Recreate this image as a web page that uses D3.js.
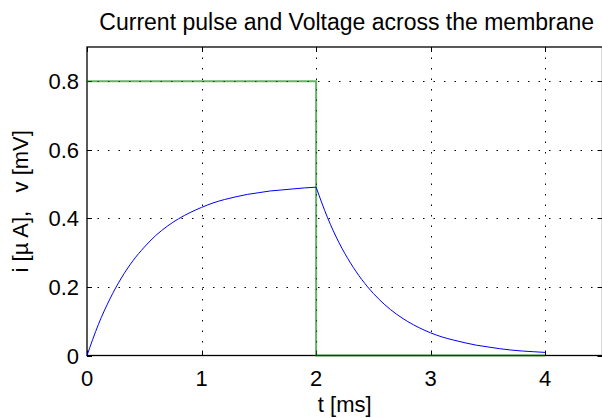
<!DOCTYPE html>
<html>
<head>
<meta charset="utf-8">
<script src="https://cdn.jsdelivr.net/npm/d3@7"></script>
<style>
  body { margin: 0; background: #fff; }
  text { font-family: "Liberation Sans", Arial, Helvetica, sans-serif; fill: #000; }
</style>
</head>
<body>
<svg width="602" height="418"></svg>
<script>
// voltage across the membrane, every 0.1 ms
const timeMs = [0.0, 0.1, 0.2, 0.3, 0.4, 0.5, 0.6, 0.7, 0.8, 0.9,
                1.0, 1.1, 1.2, 1.3, 1.4, 1.5, 1.6, 1.7, 1.8, 1.9,
                2.0, 2.1, 2.2, 2.3, 2.4, 2.5, 2.6, 2.7, 2.8, 2.9,
                3.0, 3.1, 3.2, 3.3, 3.4, 3.5, 3.6, 3.7, 3.8, 3.9, 4.0];
const voltage = [0.000, 0.091, 0.165, 0.226, 0.276, 0.316, 0.350, 0.377, 0.399, 0.417,
                 0.432, 0.445, 0.455, 0.463, 0.470, 0.475, 0.480, 0.483, 0.486, 0.489,
                 0.491, 0.402, 0.329, 0.270, 0.221, 0.181, 0.148, 0.121, 0.099, 0.081,
                 0.066, 0.054, 0.045, 0.037, 0.030, 0.025, 0.020, 0.016, 0.013, 0.011, 0.009];

// current pulse
const pulseTime = [0, 2, 2, 4];
const pulseCurrent = [0.8, 0.8, 0, 0];

const xTicks = [0, 1, 2, 3, 4];
const yTicks = [0, 0.2, 0.4, 0.6, 0.8];

let plotLeft = 87, plotTop = 47, plotRight = 602.5, plotBottom = 355.5;
let tickLen = 5;
let pulseEnd = 2; // pulse switches off here, curve has a corner

var svg = d3.select('svg');

let x = d3.scaleLinear().domain([0, 4.5]).range([plotLeft, plotRight]);
let y = d3.scaleLinear().domain([0, 0.9]).range([plotBottom, plotTop]);

// dotted grid
let grid = svg.append('g')
    .attr('stroke', '#000')
    .attr('stroke-width', 1)
    .attr('stroke-dasharray', '1.5,9');

grid.selectAll('.gx')
    .data(xTicks.filter(d => d > 0))
    .enter()
    .append('line')
    .attr('x1', d => Math.round(x(d)) + 0.5)
    .attr('x2', d => Math.round(x(d)) + 0.5)
    .attr('y1', plotTop)
    .attr('y2', plotBottom);

grid.selectAll('.gy')
    .data(yTicks.filter(d => d > 0))
    .enter()
    .append('line')
    .attr('y1', d => Math.round(y(d)) + 0.5)
    .attr('y2', d => Math.round(y(d)) + 0.5)
    .attr('x1', plotLeft)
    .attr('x2', plotRight);

// axes box
svg.append('rect')
    .attr('x', plotLeft)
    .attr('y', plotTop)
    .attr('width', plotRight - plotLeft)
    .attr('height', plotBottom - plotTop)
    .attr('fill', 'none')
    .attr('stroke', '#000')
    .attr('stroke-width', 1.3);

// inward ticks on all four sides
let ticks = svg.append('g').attr('stroke', '#000').attr('stroke-width', 1);
xTicks.forEach(function(d) {
    let px = Math.round(x(d)) + 0.5;
    ticks.append('line').attr('x1', px).attr('x2', px)
        .attr('y1', plotBottom).attr('y2', plotBottom - tickLen);
    ticks.append('line').attr('x1', px).attr('x2', px)
        .attr('y1', plotTop).attr('y2', plotTop + tickLen);
});
yTicks.forEach(function(d) {
    let py = Math.round(y(d)) + 0.5;
    ticks.append('line').attr('y1', py).attr('y2', py)
        .attr('x1', plotLeft).attr('x2', plotLeft + tickLen);
    ticks.append('line').attr('y1', py).attr('y2', py)
        .attr('x1', plotRight).attr('x2', plotRight - tickLen);
});

// tick labels
svg.selectAll('.xlab')
    .data(xTicks)
    .enter()
    .append('text')
    .attr('x', d => x(d))
    .attr('y', 386)
    .attr('text-anchor', 'middle')
    .attr('font-size', 22)
    .text(d => d);

svg.selectAll('.ylab')
    .data(yTicks)
    .enter()
    .append('text')
    .attr('x', 79)
    .attr('y', d => y(d) + 8)
    .attr('text-anchor', 'end')
    .attr('font-size', 22)
    .text(d => d === 0 ? '0' : d.toFixed(1));

// data lines
let pulseLine = d3.line()
    .x((d, i) => x(pulseTime[i]))
    .y(d => y(d));

svg.append('path')
    .attr('d', pulseLine(pulseCurrent))
    .attr('fill', 'none')
    .attr('stroke', 'rgb(0,128,0)')
    .attr('stroke-opacity', 0.6)
    .attr('stroke-width', 2);

let voltPoints = timeMs.map((t, i) => [t, voltage[i]]);
let voltLine = d3.line()
    .x(d => x(d[0]))
    .y(d => y(d[1]))
    .curve(d3.curveMonotoneX);

// charging and discharging parts drawn separately so the corner stays sharp
[voltPoints.filter(d => d[0] <= pulseEnd), voltPoints.filter(d => d[0] >= pulseEnd)]
    .forEach(function(part) {
        svg.append('path')
            .attr('d', voltLine(part))
            .attr('fill', 'none')
            .attr('stroke', '#0000ff')
            .attr('stroke-width', 1);
    });

// titles
let midX = (plotLeft + plotRight) / 2;
svg.append('text')
    .attr('x', midX + 2)
    .attr('y', 30)
    .attr('text-anchor', 'middle')
    .attr('font-size', 23)
    .text('Current pulse and Voltage across the membrane');

svg.append('text')
    .attr('x', midX)
    .attr('y', 412)
    .attr('text-anchor', 'middle')
    .attr('font-size', 22)
    .text('t [ms]');

svg.append('text')
    .attr('transform', `translate(28, ${(plotTop + plotBottom) / 2}) rotate(-90)`)
    .attr('text-anchor', 'middle')
    .attr('font-size', 22)
    .style('white-space', 'pre')
    .text('i [\u00b5 A],   v [mV]');
</script>
</body>
</html>
